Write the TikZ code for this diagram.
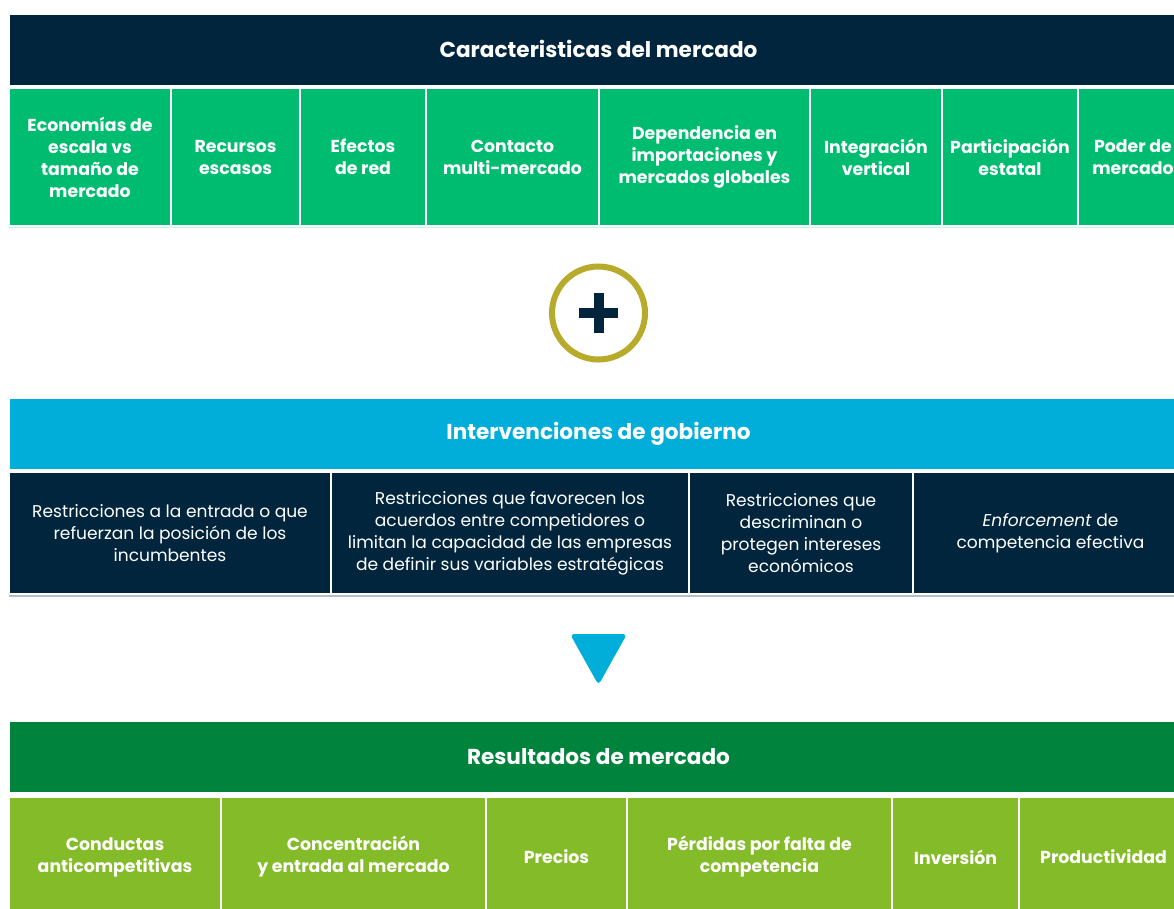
\documentclass[tikz,border=0pt]{standalone}
\usepackage{fontspec}
\setmainfont{Poppins}
\usetikzlibrary{positioning,calc}
\definecolor{cmnavy}{HTML}{00253D}
\definecolor{cmgreen}{HTML}{00BC70}
\definecolor{cmblue}{HTML}{00AED9}
\definecolor{cmdkgreen}{HTML}{00843D}
\definecolor{cmlime}{HTML}{84BB29}
\definecolor{cmgold}{HTML}{B8AA2A}

\begin{document}
\begin{tikzpicture}[
  x=0.75pt, y=-0.75pt,
  bandhead/.style={draw=white, line width=1.5pt, inner sep=0pt, text=white,
    font=\bfseries\fontsize{16.2}{19}\selectfont, minimum width={1179*0.75pt}, minimum height={72*0.75pt}},
  boldcell/.style={draw=white, line width=1.5pt, inner sep=0pt, text=white, align=center,
    font=\bfseries\fontsize{13}{16.5}\selectfont},
  plaincell/.style={boldcell, font=\fontsize{12.8}{16.5}\selectfont},
]
\clip (0,0) rectangle (1174,908);
\def\xL{9}\def\xR{1188}

% Caracteristicas del mercado
\node[bandhead, fill=cmnavy] (hcar) at ({(\xL+\xR)/2},50) {\raisebox{1.5pt}{Caracteristicas del mercado}};
\foreach \xa/\xb/\txt [count=\i] in {%
  9/171/{Economías de\\escala vs\\tamaño de\\mercado},
  171/300/{Recursos\\escasos},
  300/426/{Efectos\\de red},
  426/599/{Contacto\\multi-mercado},
  599/810/{Dependencia en\\importaciones y\\mercados globales},
  810/942/{Integración\\vertical},
  942/1078/{Participación\\estatal},
  1078/1188/{Poder de\\mercado}%
} {
  \node[boldcell, fill=cmgreen, minimum width={(\xb-\xa)*0.75pt}, minimum height={138*0.75pt}]
    (g\i) at ({(\xa+\xb)/2},157) {\txt};
}
\draw[cmgreen!22, line width=1pt] (\xL,227.5) -- (\xR,227.5);

% plus
\node[circle, draw=cmgold, line width=4.5pt, minimum size={93*0.75pt}, inner sep=0pt] (plus) at (598.5,313) {};
\draw[cmnavy, line width=7.5pt] ($(plus.center)+(-19.5,0)$) -- ($(plus.center)+(19.5,0)$);
\draw[cmnavy, line width=7.5pt] ($(plus.center)+(0,-20)$) -- ($(plus.center)+(0,20)$);

% Intervenciones de gobierno
\node[bandhead, fill=cmblue] (hint) at ({(\xL+\xR)/2},434) {\raisebox{-2.5pt}{Intervenciones de gobierno}};
\foreach \xa/\xb/\txt [count=\i] in {%
  9/331/{Restricciones a la entrada o que\\refuerzan la posición de los\\incumbentes},
  331/689/{Restricciones que favorecen los\\acuerdos entre competidores o\\limitan la capacidad de las empresas\\de definir sus variables estratégicas},
  689/913/{Restricciones que\\descriminan o\\protegen intereses\\económicos},
  913/1188/{\textit{Enforcement} de\\competencia efectiva}%
} {
  \node[plaincell, fill=cmnavy, minimum width={(\xb-\xa)*0.75pt}, minimum height={122*0.75pt}]
    (n\i) at ({(\xa+\xb)/2},533) {\txt};
}
\draw[cmnavy!30, line width=1pt] (\xL,596) -- (\xR,596);

% triangle
\fill[cmblue, rounded corners=3pt] (570,634) -- (627,634) -- (598.5,685) -- cycle;

% Resultados de mercado
\node[bandhead, fill=cmdkgreen] (hres) at ({(\xL+\xR)/2},757) {Resultados de mercado};
\foreach \xa/\xb/\txt [count=\i] in {%
  9/221/{Conductas\\anticompetitivas},
  221/486/{Concentración\\y entrada al mercado},
  486/627/{Precios},
  627/892/{Pérdidas por falta de\\competencia},
  892/1019/{Inversión},
  1019/1188/{Productividad}%
} {
  \node[boldcell, fill=cmlime, minimum width={(\xb-\xa)*0.75pt}, minimum height={121*0.75pt}]
    (r\i) at ({(\xa+\xb)/2},857) {\txt};
}
\end{tikzpicture}
\end{document}
